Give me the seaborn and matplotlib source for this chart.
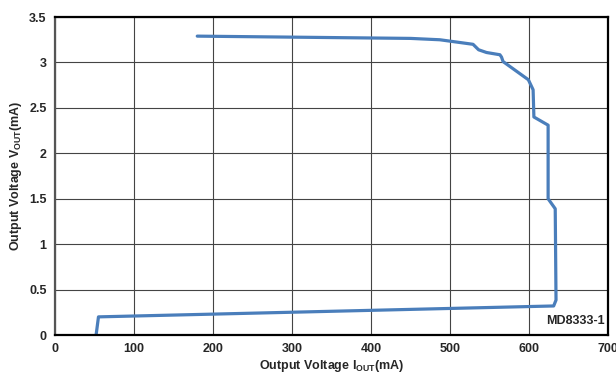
import pandas as pd
import matplotlib
matplotlib.use("Agg")
import matplotlib.pyplot as plt
import seaborn as sns

# curve (current mA, voltage V)
iout = [180, 450, 487, 529, 536, 546, 563, 565, 567, 599, 605, 606, 624, 624, 633, 634, 631, 55, 52]
vout = [3.29, 3.265, 3.25, 3.20, 3.14, 3.11, 3.085, 3.06, 3.01, 2.81, 2.70, 2.40, 2.31, 1.50, 1.39, 0.385, 0.32, 0.20, 0.0]

xticks = [0, 100, 200, 300, 400, 500, 600, 700]
yticks = [0, 0.5, 1, 1.5, 2, 2.5, 3, 3.5]
ytick_labels = ["0", "0.5", "1", "1.5", "2", "2.5", "3", "3.5"]

df = pd.DataFrame({"I": iout, "V": vout})

sns.set_style("white")
plt.rcParams["font.family"] = ["Liberation Sans", "DejaVu Sans"]
plt.rcParams["mathtext.fontset"] = "custom"
plt.rcParams["mathtext.bf"] = "Liberation Sans:bold"
plt.rcParams["mathtext.rm"] = "Liberation Sans:bold"

fig = plt.figure(figsize=(6.16, 3.79), dpi=100)
ax = fig.add_axes([0.0893, 0.116, 0.898, 0.839])

# estimator=None so repeated x values are not averaged
sns.lineplot(data=df, x="I", y="V", sort=False, estimator=None,
             color="#4a7ebb", linewidth=2.3, ax=ax)

ax.set_xlim(0, 700)
ax.set_ylim(0, 3.5)
ax.set_xticks(xticks)
ax.set_yticks(yticks)
ax.set_yticklabels(ytick_labels)
ax.grid(True, color="#444444", linewidth=0.8)
ax.tick_params(length=0, labelsize=9, pad=6)
for lab in ax.get_xticklabels() + ax.get_yticklabels():
    lab.set_fontweight("bold")

for side in ["top", "right", "bottom"]:
    ax.spines[side].set_color("black")
    ax.spines[side].set_linewidth(1.6)
ax.spines["left"].set_color("#555555")
ax.spines["left"].set_linewidth(1.6)

ax.set_xlabel(r"Output Voltage I$_{\mathbf{OUT}}$(mA)", fontsize=9, fontweight="bold", labelpad=2)
ax.set_ylabel(r"Output Voltage V$_{\mathbf{OUT}}$(mA)", fontsize=9, fontweight="bold", labelpad=4)

ax.text(0.993, 0.044, "MD8333-1", transform=ax.transAxes, ha="right", va="center",
        fontsize=9, fontweight="bold")

plt.savefig("out.png", dpi=100)
plt.close()
